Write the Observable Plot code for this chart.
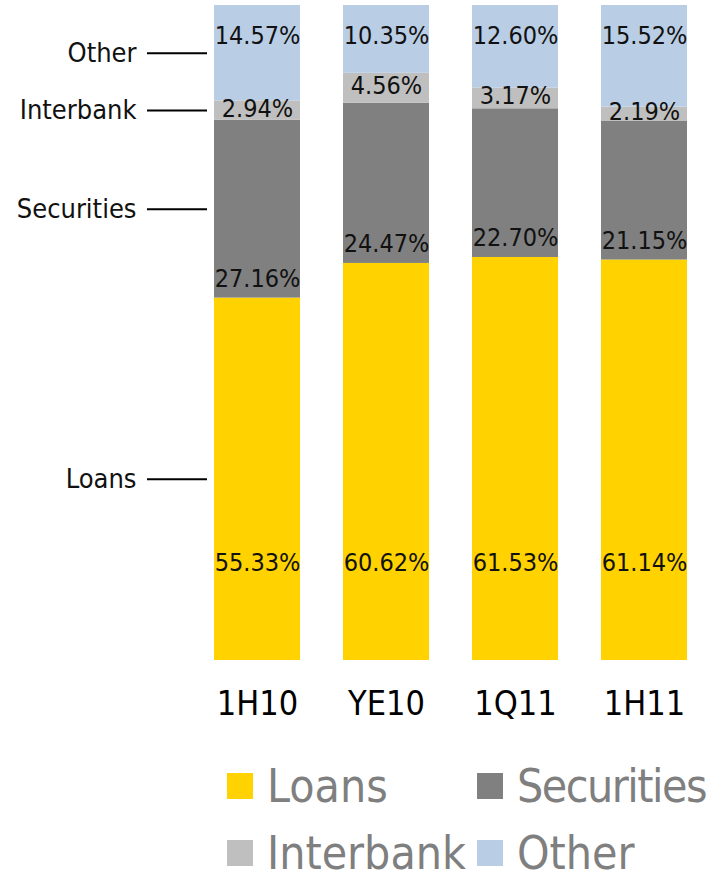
<!DOCTYPE html>
<html>
<head>
<meta charset="utf-8">
<script src="https://cdn.jsdelivr.net/npm/d3@7"></script>
<script src="https://cdn.jsdelivr.net/npm/@observablehq/plot@0.6"></script>
<style>
  body { margin: 0; background: #fff; font-family: "DejaVu Sans Condensed", "Liberation Sans Narrow", "DejaVu Sans", sans-serif; }
  #legend { display: grid; grid-template-columns: 250px 239px; grid-auto-rows: 67px; margin-left: 227px; padding-top: 12px; }
  .item { display: flex; align-items: center; font-size: 46px; line-height: 46px; color: #7f7f7f; white-space: nowrap; }
  .sw { width: 26px; height: 26px; margin-right: 14px; flex: none; }
</style>
</head>
<body>
<div id="chart"></div>
<div id="legend"></div>
<script>
const periods = ["1H10", "YE10", "1Q11", "1H11"];
const series = ["Loans", "Securities", "Interbank", "Other"];
const loans = [55.33, 60.62, 61.53, 61.14];
const securities = [27.16, 24.47, 22.70, 21.15];
const interbank = [2.94, 4.56, 3.17, 2.19];
const other = [14.57, 10.35, 12.60, 15.52];
const colors = ["#FFD200", "#808080", "#BFBFBF", "#B9CDE5"];

const values = [loans, securities, interbank, other];
const data = [];
periods.forEach((p, i) => {
  let base = 0;
  series.forEach((s, j) => {
    const v = values[j][i];
    data.push({period: p, series: s, value: v, base, top: base + v, mid: base + v / 2, text: v.toFixed(2) + "%"});
    base += v;
  });
});
const firstBar = data.filter(d => d.period === periods[0]);
const W = 716;
const font = '"DejaVu Sans Condensed", "Liberation Sans Narrow", "DejaVu Sans", sans-serif';

const chart = Plot.plot({
  width: W,
  height: 740,
  marginTop: 5,
  marginBottom: 80,
  marginLeft: 0,
  marginRight: 0,
  style: {fontFamily: font, background: "#fff", overflow: "visible"},
  x: {domain: periods, range: [212, 689], paddingInner: 0.33, paddingOuter: 0, label: null},
  y: {domain: [0, 100], axis: null},
  color: {domain: series, range: colors},
  marks: [
    Plot.barY(data, {x: "period", y1: "base", y2: "top", fill: "series"}),
    Plot.text(data.filter(d => d.series === "Loans"), {x: "period", y: 0, dy: -98, text: "text", fontSize: 25, fill: "#111"}),
    Plot.text(data.filter(d => d.series === "Securities"), {x: "period", y: "base", dy: -19, text: "text", fontSize: 25, fill: "#111"}),
    Plot.text(data.filter(d => d.series === "Interbank"), {x: "period", y: "mid", dy: -2, text: "text", fontSize: 25, fill: "#111"}),
    Plot.text(data.filter(d => d.series === "Other"), {x: "period", y: 100, dy: 30, text: "text", fontSize: 25, fill: "#111"}),
    Plot.text(firstBar, {y: "mid", text: "series", frameAnchor: "left", dx: 136, textAnchor: "end", fontSize: 27, fill: "#111"}),
    Plot.ruleY(firstBar, {y: "mid", insetLeft: 147, insetRight: W - 207, stroke: "#000", strokeWidth: 2}),
    Plot.axisX({tickSize: 0, tickPadding: 30, fontSize: 34, fill: "#000", label: null})
  ]
});
document.getElementById("chart").appendChild(chart);

const legend = document.getElementById("legend");
series.forEach((s, j) => {
  const item = document.createElement("div");
  item.className = "item";
  const sw = document.createElement("span");
  sw.className = "sw";
  sw.style.background = colors[j];
  item.appendChild(sw);
  const label = document.createElement("span");
  label.textContent = s;
  if (s === "Securities") label.style.letterSpacing = "-1.5px";
  item.appendChild(label);
  legend.appendChild(item);
});
</script>
</body>
</html>
